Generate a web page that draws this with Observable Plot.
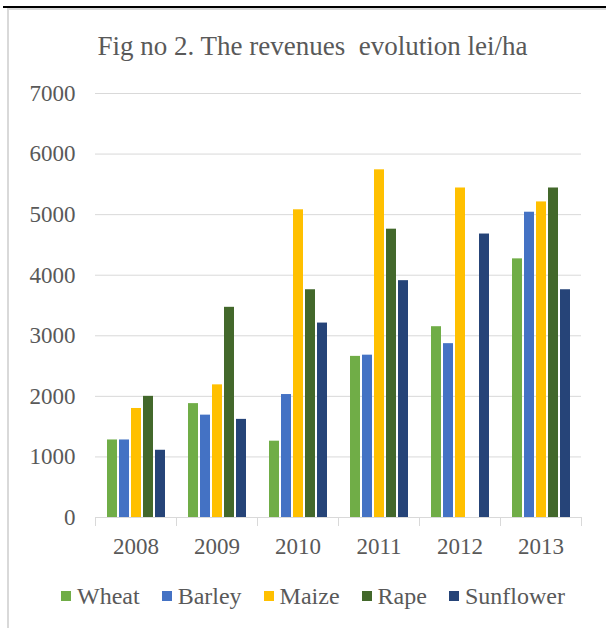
<!DOCTYPE html>
<html><head><meta charset="utf-8">
<script src="https://cdn.jsdelivr.net/npm/d3@7"></script>
<script src="https://cdn.jsdelivr.net/npm/@observablehq/plot@0.6"></script>
<style>
body{margin:0;background:#fff;}
#wrap{position:relative;width:606px;height:628px;overflow:hidden;font-family:"Liberation Serif","Times New Roman",serif;color:#595959;background:#fff;}
#topline{position:absolute;left:3px;right:0;top:6px;height:2px;background:#000;}
#box{position:absolute;left:7px;right:-10px;top:8px;bottom:-10px;border-left:2px solid #d9d9d9;border-top:2px solid #d9d9d9;}
#title{position:absolute;left:0;width:625px;top:31px;text-align:center;font-size:27px;line-height:30px;white-space:pre;}
#chart{position:absolute;left:0;top:0;}
#legend{position:absolute;left:61px;top:583px;display:flex;gap:22px;font-size:24px;line-height:26px;}
.item{display:flex;align-items:center;gap:6px;}
.sw{width:10px;height:10px;display:inline-block;}
</style>
</head><body>
<div id="wrap">
  <div id="topline"></div>
  <div id="box"></div>
  <div id="title"></div>
  <div id="chart"></div>
  <div id="legend"></div>
</div>
<script>
const titleText = "Fig no 2. The revenues  evolution lei/ha";
const years = ["2008", "2009", "2010", "2011", "2012", "2013"];
const crops = ["Wheat", "Barley", "Maize", "Rape", "Sunflower"];
const colors = ["#70ad47", "#4472c4", "#ffc000", "#43682b", "#264478"];
const yTicks = [0, 1000, 2000, 3000, 4000, 5000, 6000, 7000];

const wheat     = [1280, 1880, 1260, 2660, 3150, 4270];
const barley    = [1280, 1690, 2030, 2680, 2870, 5040];
const maize     = [1800, 2190, 5080, 5740, 5440, 5210];
const rape      = [2000, 3470, 3760, 4760, 0,    5440];
const sunflower = [1110, 1620, 3210, 3910, 4680, 3760];

const series = [wheat, barley, maize, rape, sunflower];
const table = [];
years.forEach((yr, i) => {
  crops.forEach((c, j) => table.push({year: yr, crop: c, value: series[j][i]}));
});

document.getElementById("title").textContent = titleText;

const W = 606, H = 560, MT = 93, MB = 43;
const innerH = H - MT - MB;
const gray = "#d9d9d9";

const chart = Plot.plot({
  width: W, height: H,
  marginTop: MT, marginBottom: MB, marginLeft: 93, marginRight: 24,
  style: {fontFamily: '"Liberation Serif", "Times New Roman", serif', fontSize: "23px", color: "#595959", background: "transparent", overflow: "visible"},
  fx: {domain: years, paddingInner: 0, paddingOuter: 0, label: null, axis: "bottom", tickSize: 0, tickPadding: 20},
  x: {domain: crops, paddingInner: 0.2, paddingOuter: 0.86, axis: null},
  y: {domain: [0, 7000], ticks: yTicks, tickFormat: d3.format("d"), label: null, tickSize: 0, tickPadding: 20},
  color: {domain: crops, range: colors},
  marks: [
    Plot.gridY(yTicks, {stroke: gray, strokeOpacity: 1}),
    Plot.barY(table, {fx: "year", x: "crop", y: "value", fill: "crop"}),
    Plot.ruleY([0], {stroke: gray}),
    Plot.frame({anchor: "left", stroke: gray, strokeOpacity: 1, insetTop: innerH, insetBottom: -8}),
    Plot.frame({anchor: "right", stroke: gray, strokeOpacity: 1, insetTop: innerH, insetBottom: -8})
  ]
});
document.getElementById("chart").appendChild(chart);

const legend = document.getElementById("legend");
crops.forEach((c, i) => {
  const item = document.createElement("div");
  item.className = "item";
  const sw = document.createElement("span");
  sw.className = "sw";
  sw.style.background = colors[i];
  const label = document.createElement("span");
  label.textContent = c;
  item.appendChild(sw);
  item.appendChild(label);
  legend.appendChild(item);
});
</script>
</body></html>
